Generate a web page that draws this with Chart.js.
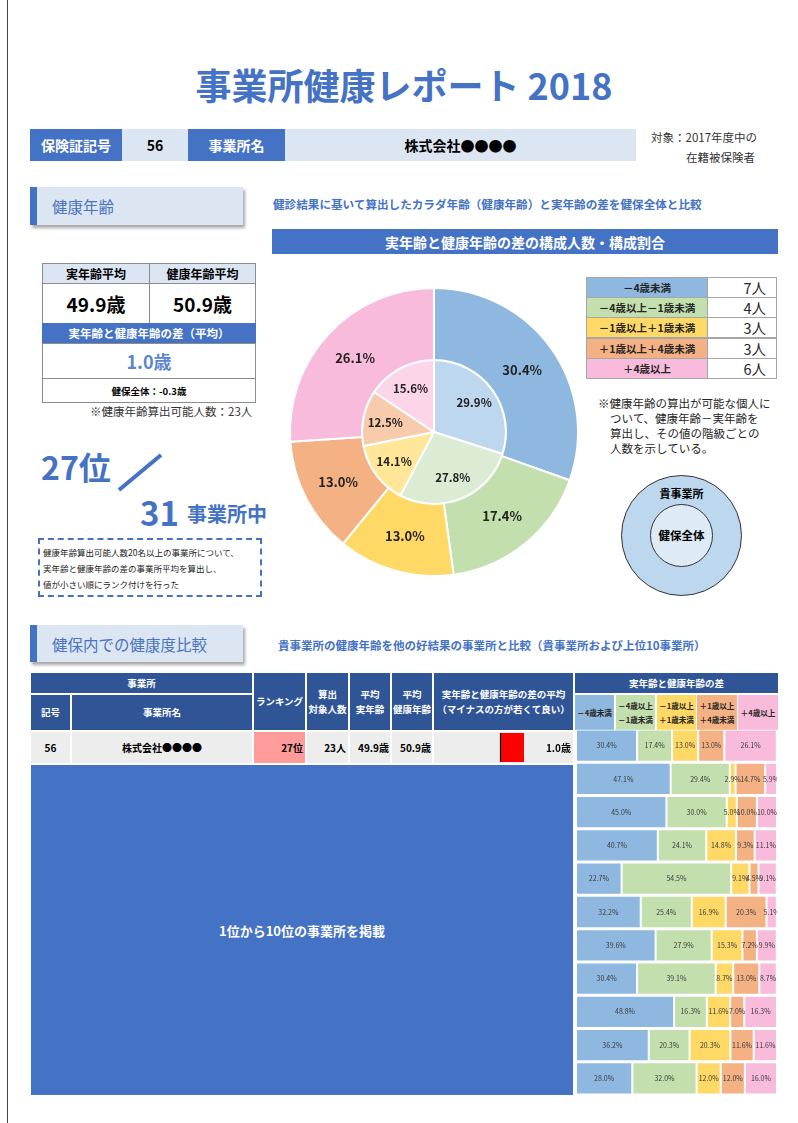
<!DOCTYPE html>
<html lang="ja">
<head>
<meta charset="utf-8">
<title>事業所健康レポート 2018</title>
<script src="https://cdn.jsdelivr.net/npm/chart.js@4/dist/chart.umd.min.js"></script>
<style>
  body { margin: 0; width: 798px; height: 1123px; position: relative; overflow: hidden; background: #fff;
         font-family: "Noto Sans CJK JP", "Noto Sans", sans-serif; color: #000; }
  .a { position: absolute; box-sizing: border-box; }
  .c { display: flex; align-items: center; justify-content: center; text-align: center; }
  .hd { background: #2f5597; color: #fff; font-weight: bold; font-size: 9.5px; line-height: 15px; }
  .sec { background: #dce6f2; box-shadow: 2px 3px 3px rgba(0,0,0,0.35); border-left: 7px solid #4472c4;
         color: #4a74c0; font-size: 15.5px; display: flex; align-items: center; padding-left: 15px; }
  .lt { border: 1px solid #8c8c8c; }
  .lg { font-size: 10.5px; font-weight: bold; color: #262626; border: 1px solid #a6a6a6; }
  .lv { font-size: 14.5px; color: #262626; border: 1px solid #a6a6a6; text-align: right; padding-right: 10px; line-height: 19px; }
</style>
</head>
<body>

<!-- page border -->
<div class="a" style="left:7px;top:0;width:1px;height:1123px;background:#444"></div>

<!-- title -->
<div class="a" style="left:0;top:58px;width:808px;text-align:center;font-size:36px;font-weight:bold;color:#4472c4;line-height:52px">事業所健康レポート 2018</div>

<!-- info bar -->
<div class="a c" style="left:30px;top:129px;width:92px;height:32px;background:#4472c4;color:#fff;font-weight:bold;font-size:14px">保険証記号</div>
<div class="a c" style="left:122px;top:129px;width:66px;height:32px;background:#dce6f2;font-weight:bold;font-size:14px">56</div>
<div class="a c" style="left:188px;top:129px;width:97px;height:32px;background:#4472c4;color:#fff;font-weight:bold;font-size:14px">事業所名</div>
<div class="a c" style="left:285px;top:129px;width:351px;height:32px;background:#dce6f2;font-weight:bold;font-size:14px">株式会社●●●●</div>
<div class="a" style="left:651px;top:128px;font-size:11.5px;color:#333;line-height:18px">対象：2017年度中の</div>
<div class="a" style="left:686px;top:148px;font-size:11.5px;color:#333;line-height:18px">在籍被保険者</div>

<!-- section 1 -->
<div class="a sec" style="left:30px;top:187px;width:213px;height:38px">健康年齢</div>
<div class="a" style="left:273px;top:196px;font-size:11.6px;font-weight:bold;color:#4472c4;line-height:16px;white-space:nowrap">健診結果に基いて算出したカラダ年齢（健康年齢）と実年齢の差を健保全体と比較</div>
<div class="a c" style="left:272px;top:229px;width:506px;height:25px;background:#4472c4;color:#fff;font-weight:bold;font-size:14px">実年齢と健康年齢の差の構成人数・構成割合</div>

<!-- left summary table -->
<div class="a c lt" style="left:42px;top:263px;width:108px;height:21px;background:#dce6f2;font-weight:bold;font-size:12px">実年齢平均</div>
<div class="a c lt" style="left:149px;top:263px;width:107px;height:21px;background:#dce6f2;font-weight:bold;font-size:12px">健康年齢平均</div>
<div class="a c lt" style="left:42px;top:283px;width:108px;height:41px;font-weight:bold;font-size:19px">49.9歳</div>
<div class="a c lt" style="left:149px;top:283px;width:107px;height:41px;font-weight:bold;font-size:19px">50.9歳</div>
<div class="a c" style="left:42px;top:323px;width:214px;height:20px;background:#4472c4;color:#fff;font-weight:bold;font-size:11.5px">実年齢と健康年齢の差（平均）</div>
<div class="a c lt" style="left:42px;top:343px;width:214px;height:36px;font-weight:bold;font-size:18px;color:#5b86cf">1.0歳</div>
<div class="a c lt" style="left:42px;top:378px;width:214px;height:25px;font-weight:bold;font-size:9.5px">健保全体：-0.3歳</div>
<div class="a" style="left:90px;top:403px;font-size:11.5px;color:#333;line-height:16px">※健康年齢算出可能人数：23人</div>

<!-- ranking -->
<div class="a" style="left:41px;top:444px;font-size:32px;font-weight:bold;color:#4472c4;line-height:44px">27位</div>
<svg class="a" style="left:110px;top:448px" width="60" height="50"><line x1="9" y1="42" x2="51" y2="7" stroke="#4472c4" stroke-width="4"/></svg>
<div class="a" style="left:140px;top:490px;font-size:33px;font-weight:bold;color:#4472c4;line-height:44px">31</div>
<div class="a" style="left:187px;top:499px;font-size:20px;font-weight:bold;color:#4472c4;line-height:30px">事業所中</div>
<div class="a" style="left:38px;top:538px;width:224px;height:59px;border:2px dashed #4472c4;padding:4px 0 0 3px;font-size:8.5px;line-height:16px;color:#222">
  健康年齢算出可能人数20名以上の事業所について、<br>実年齢と健康年齢の差の事業所平均を算出し、<br>値が小さい順にランク付けを行った
</div>

<!-- pie -->
<div class="a" style="left:284px;top:282px;width:300px;height:300px"><canvas id="pieChart"></canvas></div>

<!-- legend table -->
<div id="legendBox"></div>
<div class="a" style="left:598px;top:396px;font-size:11.5px;color:#262626;line-height:15px">※健康年齢の算出が可能な個人に</div>
<div class="a" style="left:610px;top:411px;font-size:11.5px;color:#262626;line-height:15px">ついて、健康年齢－実年齢を</div>
<div class="a" style="left:610px;top:426px;font-size:11.5px;color:#262626;line-height:15px">算出し、その値の階級ごとの</div>
<div class="a" style="left:610px;top:441px;font-size:11.5px;color:#262626;line-height:15px">人数を示している。</div>

<!-- ring legend -->
<div class="a" style="left:621px;top:475px;width:121px;height:121px;border-radius:50%;border:1px solid #333;background:#bdd7ee"></div>
<div class="a" style="left:650px;top:504px;width:63px;height:63px;border-radius:50%;border:1px solid #333;background:#deebf7"></div>
<div class="a" style="left:621px;top:485px;width:121px;text-align:center;font-size:11px;font-weight:bold;line-height:16px">貴事業所</div>
<div class="a" style="left:621px;top:527px;width:121px;text-align:center;font-size:11.5px;font-weight:bold;line-height:16px">健保全体</div>

<!-- section 2 -->
<div class="a sec" style="left:30px;top:625px;width:213px;height:37px">健保内での健康度比較</div>
<div class="a" style="left:278px;top:637px;font-size:11.5px;font-weight:bold;color:#4472c4;line-height:16px;white-space:nowrap">貴事業所の健康年齢を他の好結果の事業所と比較（貴事業所および上位10事業所）</div>

<!-- comparison table header -->
<div class="a c hd" style="left:31px;top:673px;width:221px;height:20px">事業所</div>
<div class="a c hd" style="left:31px;top:695px;width:39px;height:35px">記号</div>
<div class="a c hd" style="left:72px;top:695px;width:180px;height:35px">事業所名</div>
<div class="a c hd" style="left:254px;top:673px;width:51px;height:57px">ランキング</div>
<div class="a c hd" style="left:307px;top:673px;width:41px;height:57px">算出<br>対象人数</div>
<div class="a c hd" style="left:350px;top:673px;width:40px;height:57px">平均<br>実年齢</div>
<div class="a c hd" style="left:392px;top:673px;width:40px;height:57px">平均<br>健康年齢</div>
<div class="a c hd" style="left:434px;top:673px;width:139px;height:57px">実年齢と健康年齢の差の平均<br>（マイナスの方が若くて良い）</div>
<div class="a c hd" style="left:575px;top:673px;width:203px;height:20px">実年齢と健康年齢の差</div>
<div id="catHead"></div>

<!-- own office row -->
<div class="a c" style="left:31px;top:732px;width:39px;height:31px;background:#ededed;font-size:10px;font-weight:bold">56</div>
<div class="a c" style="left:72px;top:732px;width:180px;height:31px;background:#ededed;font-size:10px;font-weight:bold">株式会社●●●●</div>
<div class="a" style="left:254px;top:732px;width:51px;height:31px;background:#ff9b9b;font-size:10px;font-weight:bold;text-align:right;line-height:31px;padding-right:2px">27位</div>
<div class="a" style="left:307px;top:732px;width:41px;height:31px;background:#ededed;font-size:10px;font-weight:bold;text-align:right;line-height:31px;padding-right:2px">23人</div>
<div class="a" style="left:350px;top:732px;width:40px;height:31px;background:#ededed;font-size:10px;font-weight:bold;text-align:right;line-height:31px;padding-right:1px">49.9歳</div>
<div class="a" style="left:392px;top:732px;width:40px;height:31px;background:#ededed;font-size:10px;font-weight:bold;text-align:right;line-height:31px;padding-right:1px">50.9歳</div>
<div class="a" style="left:434px;top:732px;width:139px;height:31px;background:#ededed"></div>
<div class="a" style="left:452px;top:733px;width:96px;height:29px"><canvas id="diffChart"></canvas></div>
<div class="a" style="left:434px;top:732px;width:139px;height:31px;font-size:10px;font-weight:bold;text-align:right;line-height:31px;padding-right:2px">1.0歳</div>

<!-- top 10 block -->
<div class="a c" style="left:31px;top:765px;width:542px;height:330px;background:#4472c4;color:#fff;font-weight:bold;font-size:13px">1位から10位の事業所を掲載</div>

<!-- stacked bars -->
<div class="a" style="left:576px;top:729px;width:201px;height:366px"><canvas id="stackChart"></canvas></div>

<script>
// difference classes (health age - real age)
const categories = ["－4歳未満", "－4歳以上－1歳未満", "－1歳以上＋1歳未満", "＋1歳以上＋4歳未満", "＋4歳以上"];
const catHeads = ["－4歳未満", "－4歳以上<br>－1歳未満", "－1歳以上<br>＋1歳未満", "＋1歳以上<br>＋4歳未満", "＋4歳以上"];
const officeCounts = [7, 4, 3, 3, 6];              // 貴事業所 (persons)
const kenpoShares = [29.9, 27.8, 14.1, 12.5, 15.6]; // 健保全体 (%)

// stacked bars: 貴事業所 + 1位..10位 (%)
const rowLabels = ["貴事業所", "1位", "2位", "3位", "4位", "5位", "6位", "7位", "8位", "9位", "10位"];
const shareUnder4 = [30.4, 47.1, 45.0, 40.7, 22.7, 32.2, 39.6, 30.4, 48.8, 36.2, 28.0];
const share4to1 = [17.4, 29.4, 30.0, 24.1, 54.5, 25.4, 27.9, 39.1, 16.3, 20.3, 32.0];
const share1to1 = [13.0, 2.9, 5.0, 14.8, 9.1, 16.9, 15.3, 8.7, 11.6, 20.3, 12.0];
const share1to4 = [13.0, 14.7, 10.0, 9.3, 4.5, 20.3, 7.2, 13.0, 7.0, 11.6, 12.0];
const shareOver4 = [26.1, 5.9, 10.0, 11.1, 9.1, 5.1, 9.9, 8.7, 16.3, 11.6, 16.0];

// average difference of own office
const diffAvg = [1.0];

const mainColors = ["#8fb8e0", "#c2dfad", "#ffd966", "#f4b183", "#f8bbdb"];
const lightColors = ["#bdd7ee", "#dcebd3", "#ffe699", "#f8cbad", "#fcd5e9"];

Chart.defaults.font.family = '"Noto Sans CJK JP", sans-serif';
Chart.defaults.animation = false;

// --- legend table + category header cells ---
const totalCount = officeCounts.reduce((s, v) => s + v, 0);
let legendHtml = "";
categories.forEach((cat, i) => {
  const top = 277 + i * 20.2;
  legendHtml += `<div class="a c lg" style="left:586px;top:${top}px;width:122px;height:21px;background:${mainColors[i]}">${cat}</div>`;
  legendHtml += `<div class="a lv" style="left:707px;top:${top}px;width:70px;height:21px">${officeCounts[i]}人</div>`;
});
document.getElementById("legendBox").innerHTML = legendHtml;

const headLeft = [575, 616, 657, 697, 738];
const headWidth = [39, 39, 39, 40, 40];
let headHtml = "";
catHeads.forEach((h, i) => {
  headHtml += `<div class="a c" style="left:${headLeft[i]}px;top:695px;width:${headWidth[i]}px;height:35px;background:${mainColors[i]};font-size:7.6px;font-weight:bold;line-height:14px;color:#262626;white-space:nowrap">${h}</div>`;
});
document.getElementById("catHead").innerHTML = headHtml;

// --- pie: outer = 貴事業所, inner = 健保全体 ---
const pieLabels = {
  id: "pieLabels",
  afterDatasetsDraw(chart) {
    const ctx = chart.ctx;
    ctx.save();
    ctx.textAlign = "center";
    ctx.textBaseline = "middle";
    ctx.fillStyle = "#222";
    chart.data.datasets.forEach((ds, di) => {
      chart.getDatasetMeta(di).data.forEach((arc, i) => {
        const p = arc.getProps(["x", "y", "startAngle", "endAngle", "innerRadius", "outerRadius"], true);
        const mid = (p.startAngle + p.endAngle) / 2;
        const r = di === 0 ? (p.innerRadius + p.outerRadius) / 2 : p.outerRadius * 0.69;
        ctx.font = di === 0 ? 'bold 13px "Noto Sans CJK JP"' : '600 11.5px "Noto Sans CJK JP"';
        ctx.fillText(ds.pctLabels[i], p.x + Math.cos(mid) * r, p.y + Math.sin(mid) * r);
      });
    });
    ctx.restore();
  }
};

new Chart(document.getElementById("pieChart"), {
  type: "doughnut",
  data: {
    labels: categories,
    datasets: [
      {
        data: officeCounts,
        pctLabels: officeCounts.map(v => (v / totalCount * 100).toFixed(1) + "%"),
        backgroundColor: mainColors,
        borderColor: "#fff",
        borderWidth: 2
      },
      {
        data: kenpoShares,
        pctLabels: kenpoShares.map(v => v.toFixed(1) + "%"),
        backgroundColor: lightColors,
        borderColor: "#fff",
        borderWidth: 2
      }
    ]
  },
  options: {
    responsive: true,
    maintainAspectRatio: false,
    cutout: 0,
    layout: { padding: 5 },
    plugins: { legend: { display: false }, tooltip: { enabled: false } }
  },
  plugins: [pieLabels]
});

// --- small red bar for the average difference ---
new Chart(document.getElementById("diffChart"), {
  type: "bar",
  data: {
    labels: ["貴事業所"],
    datasets: [{
      data: diffAvg,
      backgroundColor: "#ff0000",
      borderColor: "#000",
      borderWidth: { left: 1.5, right: 0, top: 0, bottom: 0 },
      borderSkipped: false,
      barPercentage: 1,
      categoryPercentage: 1
    }]
  },
  options: {
    indexAxis: "y",
    responsive: true,
    maintainAspectRatio: false,
    layout: { padding: 0 },
    scales: {
      x: { display: false, min: -2, max: 2 },
      y: { display: false }
    },
    plugins: { legend: { display: false }, tooltip: { enabled: false } }
  }
});

// --- stacked composition bars ---
const segLabels = {
  id: "segLabels",
  afterDatasetsDraw(chart) {
    const ctx = chart.ctx;
    ctx.save();
    ctx.font = '7px "Noto Sans CJK JP"';
    ctx.fillStyle = "#3a3a3a";
    ctx.textAlign = "center";
    ctx.textBaseline = "middle";
    chart.data.datasets.forEach((ds, di) => {
      chart.getDatasetMeta(di).data.forEach((bar, i) => {
        const p = bar.getProps(["x", "y", "base"], true);
        ctx.fillText(ds.data[i].toFixed(1) + "%", (p.x + p.base) / 2, p.y);
      });
    });
    ctx.restore();
  }
};

const seriesList = [shareUnder4, share4to1, share1to1, share1to4, shareOver4];
new Chart(document.getElementById("stackChart"), {
  type: "bar",
  data: {
    labels: rowLabels,
    datasets: seriesList.map((s, i) => ({
      label: categories[i],
      data: s,
      backgroundColor: mainColors[i],
      borderColor: "#fff",
      borderWidth: 1,
      borderSkipped: false,
      barPercentage: 0.97,
      categoryPercentage: 1
    }))
  },
  options: {
    indexAxis: "y",
    responsive: true,
    maintainAspectRatio: false,
    layout: { padding: 0 },
    scales: {
      x: { stacked: true, display: false, min: 0, max: 100 },
      y: { stacked: true, display: false }
    },
    plugins: { legend: { display: false }, tooltip: { enabled: false } }
  },
  plugins: [segLabels]
});
</script>
</body>
</html>
